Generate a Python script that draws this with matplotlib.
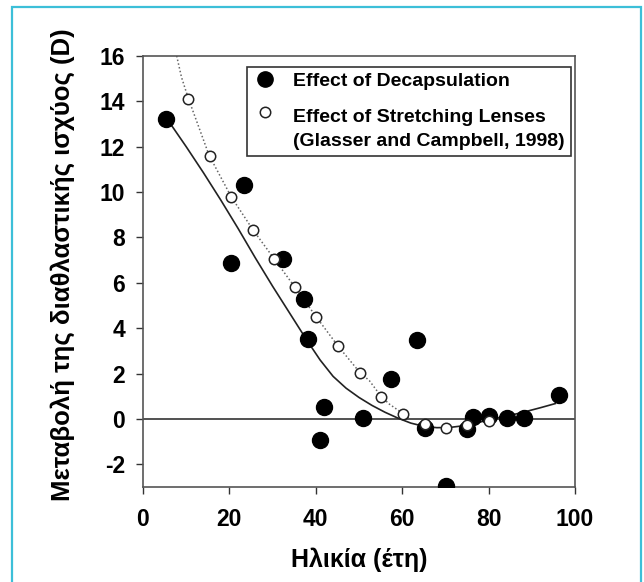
import matplotlib
matplotlib.use("Agg")
import matplotlib.pyplot as plt
from matplotlib.patches import Rectangle
from matplotlib.lines import Line2D
from matplotlib.legend_handler import HandlerLine2D
from matplotlib.transforms import Affine2D

# decapsulation (filled) points
decap_age = [5.4, 20.4, 23.4, 32.3, 37.3, 38.1, 41.0, 42.0, 51.0, 57.3,
             63.3, 65.2, 70.1, 75.0, 76.3, 80.1, 84.2, 88.1, 96.2]
decap_power = [13.2, 6.86, 10.3, 7.07, 5.3, 3.52, -0.92, 0.54, 0.05, 1.78,
               3.49, -0.38, -2.95, -0.46, 0.08, 0.15, 0.05, 0.05, 1.06]

# stretching lenses (open) points
stretch_age = [10.5, 15.4, 20.4, 25.4, 30.4, 35.2, 40.1, 45.2, 50.2, 55.1,
               60.1, 65.2, 70.1, 75.0, 80.1]
stretch_power = [14.1, 11.6, 9.8, 8.35, 7.05, 5.8, 4.5, 3.2, 2.03, 0.98,
                 0.23, -0.21, -0.38, -0.25, -0.1]

# fitted curves
fit_decap_age = [6.6, 10, 14, 18, 22, 26, 30, 34, 38, 41, 44, 47, 50, 53,
                 56, 59, 62, 65, 68, 71, 74, 77, 80, 83, 86, 89, 92, 95.4]
fit_decap_power = [12.94, 12.0, 10.85, 9.65, 8.4, 7.1, 5.85, 4.65, 3.45, 2.6,
                   1.88, 1.36, 0.95, 0.6, 0.3, 0.04, -0.18, -0.32, -0.38, -0.37,
                   -0.3, -0.18, -0.04, 0.09, 0.21, 0.35, 0.5, 0.68]

fit_stretch_age = [7.8, 8.9, 10.45, 15.3, 20.4, 25.4, 30.4, 35.2, 40.1, 45.2,
                   50.2, 52.4, 55.1, 57.0, 60.1, 61.5]
fit_stretch_power = [16.0, 15.07, 14.15, 11.62, 9.8, 8.35, 7.05, 5.8, 4.5, 3.2,
                     2.05, 1.69, 1.0, 0.66, 0.25, 0.05]

x_ticks = [0, 20, 40, 60, 80, 100]
y_ticks = [-2, 0, 2, 4, 6, 8, 10, 12, 14, 16]

plt.rcParams["font.family"] = ["Liberation Sans", "DejaVu Sans"]
plt.rcParams["font.weight"] = "bold"
plt.rcParams["axes.unicode_minus"] = False

fig = plt.figure(figsize=(6.44, 5.82), dpi=100)
ax = fig.add_axes([0.222, 0.163, 0.671, 0.741])

# cyan frame around the figure
fig.patches.append(Rectangle((11.5 / 644, -0.05), (641 - 11.5) / 644, 1.05 - 7 / 582,
                             transform=fig.transFigure, fill=False,
                             edgecolor="#3cbfd8", linewidth=1.6))

ax.axhline(0, color="#222222", linewidth=1.1, zorder=1)
ax.plot(fit_decap_age, fit_decap_power, color="#222222", linewidth=1.2, zorder=2)
ax.plot(fit_stretch_age, fit_stretch_power, color="#666666", linewidth=1.1,
        linestyle=(0, (1, 1.5)), zorder=2)

ax.plot(decap_age, decap_power, "o", color="black", markersize=11.5, zorder=3)
ax.plot(stretch_age, stretch_power, "o", markerfacecolor="white",
        markeredgecolor="#222222", markeredgewidth=1.1, markersize=7.5, zorder=4)

ax.set_xlim(0, 100)
ax.set_ylim(-3, 16)
ax.set_xticks(x_ticks)
ax.set_yticks(y_ticks)
ax.tick_params(direction="out", length=5, width=1, labelsize=16.5, colors="#333333",
               labelcolor="black")
ax.tick_params(axis="y", pad=8)
ax.tick_params(axis="x", pad=10)
for s in ax.spines.values():
    s.set_color("#555555")
    s.set_linewidth(1.2)

ax.set_xlabel("Ηλικία (έτη)", fontsize=18, fontweight="bold", labelpad=12)
ax.set_ylabel("Μεταβολή της διαθλαστικής ισχύος (D)", fontsize=18.5,
              fontweight="bold")
ax.yaxis.set_label_coords(-0.157, 0.516)


class FirstLineHandler(HandlerLine2D):
    # keeps the marker level with the first line of a two-line label
    def create_artists(self, legend, orig_handle, xdescent, ydescent, width,
                       height, fontsize, trans):
        arts = super().create_artists(legend, orig_handle, xdescent, ydescent,
                                      width, height, fontsize, trans)
        shift = Affine2D().translate(0, 0.85 * fontsize)
        for a in arts:
            a.set_transform(shift + trans)
        return arts


h_decap = Line2D([], [], marker="o", linestyle="none", color="black", markersize=11)
h_stretch = Line2D([], [], marker="o", linestyle="none", markerfacecolor="white",
                   markeredgecolor="#222222", markeredgewidth=1.1, markersize=7.5)
leg = ax.legend([h_decap, h_stretch],
                ["Effect of Decapsulation",
                 "Effect of Stretching Lenses\n(Glasser and Campbell, 1998)"],
                handler_map={h_stretch: FirstLineHandler()},
                loc="upper right", bbox_to_anchor=(0.99, 0.975),
                prop={"size": 14, "weight": "bold"}, fancybox=False,
                framealpha=1, edgecolor="#333333", borderpad=0.3,
                handlelength=1.25, handletextpad=0.85, labelspacing=0.95,
                borderaxespad=0)
leg.get_frame().set_linewidth(1.2)
for t in leg.get_texts():
    t.set_linespacing(1.55)

fig.savefig("out.png", dpi=100)
